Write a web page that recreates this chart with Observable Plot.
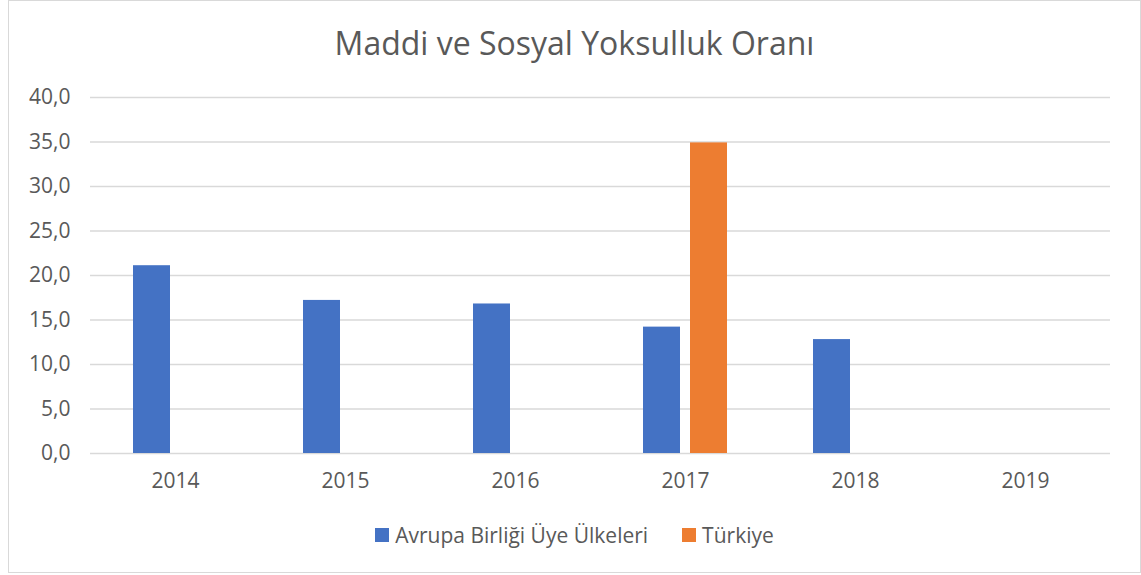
<!DOCTYPE html>
<html>
<head>
<meta charset="utf-8">
<script src="https://cdn.jsdelivr.net/npm/d3@7"></script>
<script src="https://cdn.jsdelivr.net/npm/@observablehq/plot@0.6"></script>
<style>
  body { margin: 0; background: #fff; font-family: "Open Sans", Lato, sans-serif; color: #595959; }
  #frame { position: absolute; left: 8px; top: 0px; width: 1131px; height: 571px; border: 1px solid #d9d9d9; }
  #title { position: absolute; left: 0; top: 20px; width: 1131px; text-align: center; font-size: 32px; color: #595959; }
  #chart { position: absolute; left: 0; top: 81px; }
  #legend { position: absolute; left: 0; top: 520px; width: 1131px; display: flex; justify-content: center; align-items: center; font-size: 21px; color: #595959; }
  .item { display: flex; align-items: center; margin: 0 17px; }
  .sw { width: 14px; height: 14px; margin-right: 6px; display: inline-block; }
</style>
</head>
<body>
<div id="frame">
  <div id="title"></div>
  <div id="chart"></div>
  <div id="legend"></div>
</div>
<script>
const titleText = "Maddi ve Sosyal Yoksulluk Oranı";
const years = ["2014", "2015", "2016", "2017", "2018", "2019"];
const seriesNames = ["Avrupa Birliği Üye Ülkeleri", "Türkiye"];
const seriesColors = ["#4472C4", "#ED7D31"];
const euValues = [21.1, 17.2, 16.8, 14.2, 12.8, null];
const trValues = [null, null, null, 34.9, null, null];
const yTicks = [0, 5, 10, 15, 20, 25, 30, 35, 40];

const data = [];
years.forEach((y, i) => {
  data.push({year: y, series: seriesNames[0], value: euValues[i]});
  data.push({year: y, series: seriesNames[1], value: trValues[i]});
});

document.getElementById("title").textContent = titleText;

const plot = Plot.plot({
  width: 1131,
  height: 420,
  marginTop: 15,
  marginBottom: 49,
  marginLeft: 79,
  marginRight: 28,
  style: {fontFamily: "'Open Sans', Lato, sans-serif", fontSize: "21px", color: "#595959", background: "#fff"},
  fx: {domain: years, padding: 0, axis: "bottom", label: null, tickSize: 0, tickPadding: 20},
  x: {domain: seriesNames, axis: null, paddingInner: 0.21, paddingOuter: 0.88},
  y: {domain: [0, 40], ticks: yTicks, tickSize: 0, tickPadding: 20, label: null,
      tickFormat: d => d.toFixed(1).replace(".", ",")},
  color: {domain: seriesNames, range: seriesColors},
  marks: [
    Plot.ruleY(yTicks, {stroke: "#d9d9d9", strokeWidth: 1.5}),
    Plot.barY(data, {fx: "year", x: "series", y: "value", fill: "series"})
  ]
});
document.getElementById("chart").appendChild(plot);

const legend = document.getElementById("legend");
seriesNames.forEach((s, i) => {
  const item = document.createElement("span");
  item.className = "item";
  const sw = document.createElement("span");
  sw.className = "sw";
  sw.style.background = seriesColors[i];
  item.appendChild(sw);
  item.appendChild(document.createTextNode(s));
  legend.appendChild(item);
});
</script>
</body>
</html>
